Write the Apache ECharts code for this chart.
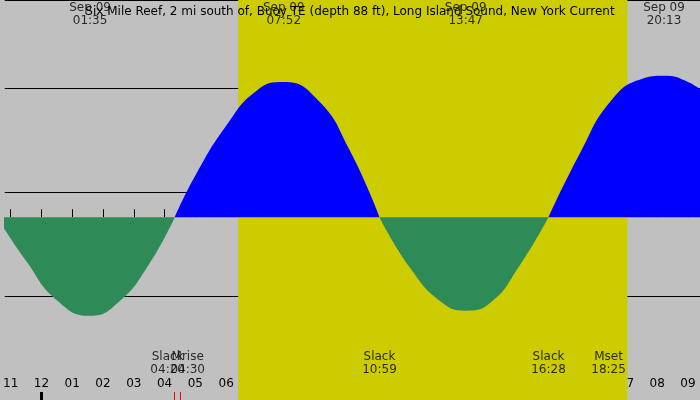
<!DOCTYPE html>
<html><head><meta charset="utf-8">
<script src="https://cdn.jsdelivr.net/npm/echarts@6/dist/echarts.min.js"></script>
<style>html,body{margin:0;padding:0;background:#c0c0c0}#c{width:700px;height:400px}</style>
</head><body><div id="c"></div>
<script>
const title = "Six Mile Reef, 2 mi south of, Buoy TE (depth 88 ft), Long Island Sound, New York Current";
// times in hours from Sep 09 00:00
const ebb1 = [[-1.45,0],[-0.5,-0.42],[0.5,-0.8],[1.58,-0.95],[2.5,-0.82],[3.5,-0.45],[4.33,0]];
const flood1 = [[4.33,0],[5,0.4],[6,0.88],[7,1.22],[7.87,1.3],[9,1.12],[10,0.65],[10.98,0]];
const ebb2 = [[10.98,0],[12,-0.5],[13,-0.82],[13.78,-0.9],[14.6,-0.82],[15.5,-0.48],[16.47,0]];
const flood2 = [[16.47,0],[17.5,0.62],[18.5,1.12],[19.5,1.33],[20.22,1.36],[21,1.3],[21.6,1.18]];
const topEvents = [[1.58,"Sep 09\n01:35"],[7.87,"Sep 09\n07:52"],[13.78,"Sep 09\n13:47"],[20.22,"Sep 09\n20:13"]];
const bottomEvents = [[-1.45,"Slack\n22:33"],[4.1,"Slack\n04:20"],[4.75,"Mrise\n04:30"],[10.98,"Slack\n10:59"],[16.47,"Slack\n16:28"],[18.42,"Mset\n18:25"]];
const redTicks = [4.33,4.5,10.98,16.47,18.42];
const hourTicks = [-1,0,1,2,3,4,5,6,7,8,9,10,11,12,13,14,15,16,17,18,19,20,21];
const sunrise = 6.39, sunset = 19.03;
const XMIN = -1.19, XMAX = 21.39, YMIN = -1.76, YMAX = 2.09;
const F = "DejaVu Sans";

const chart = echarts.init(document.getElementById('c'));
const baseX = {type:'value',min:XMIN,max:XMAX,position:'bottom',splitLine:{show:false},axisLine:{show:false}};
function area(data,color){return {type:'line',data,smooth:0.5,symbol:'none',lineStyle:{width:0},areaStyle:{color,opacity:1},z:3};}
chart.setOption({
  animation:false,
  backgroundColor:'#c0c0c0',
  title:{text:title,left:'center',top:1,textStyle:{fontFamily:F,fontSize:12,fontWeight:'normal',color:'#000'}},
  grid:{left:0,right:0,top:0,bottom:0},
  xAxis:[
    Object.assign({},baseX,{axisTick:{inside:true,length:8,lineStyle:{color:'#000'},customValues:hourTicks},
      axisLabel:{inside:true,margin:10,fontFamily:F,fontSize:12,color:'#000',customValues:hourTicks,
        formatter:v=>{const h=((Math.round(v)%12)+23)%12+1;return (h<10?'0':'')+h;}}}),
    Object.assign({},baseX,{axisTick:{inside:true,length:8,lineStyle:{color:'#f00'},customValues:redTicks},axisLabel:{show:false}}),
    Object.assign({},baseX,{axisTick:{inside:true,length:8,lineStyle:{color:'#000',width:3},customValues:[0]},axisLabel:{show:false}})
  ],
  yAxis:{type:'value',min:YMIN,max:YMAX,interval:1,axisLine:{show:false},axisTick:{show:false},
    splitLine:{show:true,lineStyle:{color:'#000',width:1}},
    axisLabel:{inside:true,fontFamily:F,fontSize:12,color:'#000',margin:4,verticalAlign:'middle',
      formatter:v=>(Math.abs(v-Math.round(v))<1e-6&&v>=-1&&v<=1)?Math.round(v)+' kt':''}},
  series:[
    {type:'line',data:[],markArea:{silent:true,itemStyle:{color:'#cccc00'},data:[[{xAxis:sunrise},{xAxis:sunset}]]},z:1},
    area(ebb1,'#2e8b57'),area(flood1,'#0000ff'),area(ebb2,'#2e8b57'),area(flood2,'#0000ff'),
    {type:'scatter',symbolSize:0,data:topEvents.map(e=>[e[0],1.95,e[1]]),z:5,
      label:{show:true,position:'inside',formatter:p=>p.data[2],fontFamily:F,fontSize:12,color:'#000',lineHeight:13}},
    {type:'scatter',symbolSize:0,data:bottomEvents.map(e=>[e[0],-1.41,e[1]]),z:5,
      label:{show:true,position:'inside',formatter:p=>p.data[2],fontFamily:F,fontSize:12,color:'#000',lineHeight:13}}
  ]
});
</script></body></html>
